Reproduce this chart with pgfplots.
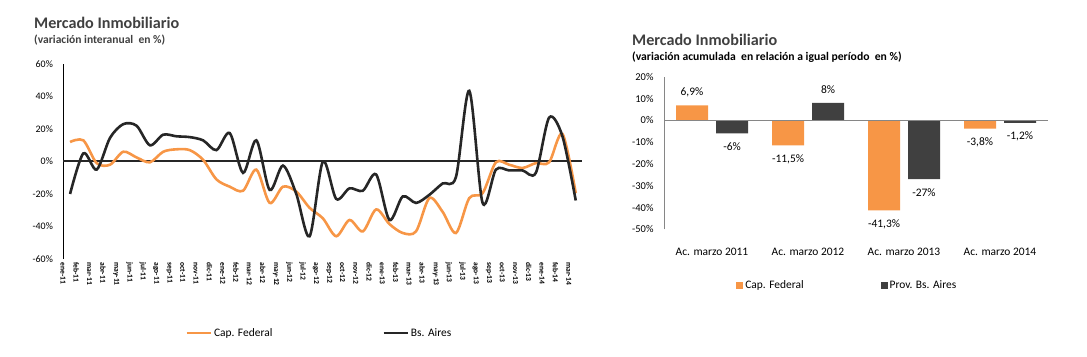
\documentclass[border=0pt]{standalone}
\usepackage{pgfplots}
\usepackage{pgfplotstable}
\pgfplotsset{compat=1.18}
\usepackage{fontspec}
\setmainfont{Carlito}
\definecolor{corange}{HTML}{F79646}
\definecolor{cdark}{HTML}{404040}
\definecolor{cline}{HTML}{262626}
\definecolor{ctitle}{HTML}{404040}
\definecolor{cgrid}{HTML}{868686}

\pgfplotstableread{
i cap bsas
0 12 -20
1 13 5
2 -1 -5
3 -2 14.5
4 6 23
5 2.5 22
6 -0.5 10
7 6 16.5
8 7.5 15.5
9 7 15
10 1 13
11 -11 7
12 -15.5 17.5
13 -18 -7
14 -5 13
15 -25.5 -17.5
16 -15.5 -2.5
17 -18.5 -20
18 -28.5 -46
19 -35 0
20 -46 -23
21 -36 -16.5
22 -43 -18
23 -29.5 -8
24 -38.5 -36
25 -44 -21.5
26 -43 -25.5
27 -22.5 -20.5
28 -31 -13.5
29 -44 -9.5
30 -22.5 43.5
31 -19.5 -25.5
32 -0.5 -5
33 -2 -5.5
34 -4 -5.5
35 -1 -7
36 -0.5 27
37 17 15.5
38 -19.5 -24
}\monthly

\begin{document}
\begin{tikzpicture}
\path[use as bounding box] (0bp,0bp) rectangle (1087bp,357bp);
% left titles
\node[anchor=base west, inner sep=0, text=ctitle, font=\fontsize{16.2}{19}\selectfont\bfseries] at (34bp,328.5bp) {Mercado Inmobiliario};
\node[anchor=base west, inner sep=0, text=ctitle, font=\fontsize{11.6}{13}\selectfont\bfseries] at (34bp,313bp) {(variación interanual\ \ en \%)};
% right titles
\node[anchor=base west, inner sep=0, text=ctitle, font=\fontsize{16.2}{19}\selectfont\bfseries] at (632bp,311bp) {Mercado Inmobiliario};
\node[anchor=base west, inner sep=0, text=black, font=\fontsize{11.7}{13}\selectfont\bfseries] at (632bp,296bp) {(variación acumulada\ \ en relación a igual período\ \ en \%)};

\begin{axis}[
  at={(63.4bp,98bp)}, anchor=south west,
  width=519bp, height=195bp, scale only axis,
  xmin=-0.5, xmax=38.5, ymin=-60, ymax=60,
  axis lines*=left,
  x axis line style={draw=none},
  y axis line style={draw=black, line width=0.8bp},
  tick style={draw=none},
  clip=false,
  ytick={-60,-40,-20,0,20,40,60},
  yticklabels={-60\%,-40\%,-20\%,0\%,20\%,40\%,60\%},
  yticklabel style={font=\fontsize{10}{12}\selectfont, xshift=-7bp},
  xtick={0,...,38},
  xticklabels={ene-11,feb-11,mar-11,abr-11,may-11,jun-11,jul-11,ago-11,sep-11,oct-11,nov-11,dic-11,
    ene-12,feb-12,mar-12,abr-12,may-12,jun-12,jul-12,ago-12,sep-12,oct-12,nov-12,dic-12,
    ene-13,feb-13,mar-13,abr-13,may-13,jun-13,jul-13,ago-13,sep-13,oct-13,nov-13,dic-13,
    ene-14,feb-14,mar-14},
  xticklabel style={font=\fontsize{7.6}{9}\selectfont\bfseries, rotate=-90, anchor=west, yshift=-7bp},
  legend style={draw=none, fill=none, legend columns=2, at={(0.229,-0.38)}, anchor=west,
    font=\fontsize{11.5}{13}\selectfont,
    /tikz/every even column/.append style={column sep=108bp}},
  legend image code/.code={\draw[#1] (0bp,0bp) -- (24bp,0bp);},
]
\addplot[cline, line width=2bp, forget plot] coordinates {(-0.5,0) (38.5,0)};
\addplot[corange, line width=2.6bp, smooth] table[x=i, y=cap] {\monthly};
\addlegendentry{Cap. Federal}
\addplot[cline, line width=2.6bp, smooth] table[x=i, y=bsas] {\monthly};
\addlegendentry{Bs. Aires}
\end{axis}

\begin{axis}[
  at={(664bp,127.7bp)}, anchor=south west,
  width=384bp, height=152.6bp, scale only axis,
  xmin=-0.5, xmax=3.5, ymin=-50, ymax=20,
  ybar=8bp, bar width=32bp,
  axis lines*=left,
  x axis line style={draw=none},
  y axis line style={draw=cgrid, line width=0.8bp},
  tick style={draw=none},
  clip=false,
  ytick={-50,-40,-30,-20,-10,0,10,20},
  yticklabels={-50\%,-40\%,-30\%,-20\%,-10\%,0\%,10\%,20\%},
  yticklabel style={font=\fontsize{10.5}{12}\selectfont, xshift=-7bp},
  xtick={0,1,2,3},
  xticklabels={Ac. marzo 2011,Ac. marzo 2012,Ac. marzo 2013,Ac. marzo 2014},
  xticklabel style={font=\fontsize{11.5}{13}\selectfont, yshift=-11bp},
  point meta=explicit symbolic,
  visualization depends on={y \as \rawy},
  nodes near coords,
  every node near coord/.append style={font=\fontsize{11.5}{13}\selectfont, text=black, anchor=center, inner sep=0pt, yshift={ifthenelse(\rawy<0,-13.5,13)*1bp}},
  legend style={draw=none, fill=none, legend columns=2, at={(0.18,-0.37)}, anchor=west,
    font=\fontsize{11.5}{13}\selectfont,
    /tikz/every even column/.append style={column sep=75bp}},
]
\addplot[draw=none, fill=corange, legend image code/.code={\fill[corange] (0bp,-3.5bp) rectangle (7bp,3.5bp);}]
  coordinates {(0,6.9) [6,9\%] (1,-11.5) [-11,5\%] (2,-41.3) [-41,3\%] (3,-3.8) [-3,8\%]};
\addlegendentry{Cap. Federal}
\addplot[draw=none, fill=cdark, legend image code/.code={\fill[cdark] (0bp,-3.5bp) rectangle (7bp,3.5bp);}]
  coordinates {(0,-6) [-6\%] (1,8) [8\%] (2,-27) [-27\%] (3,-1.2) [-1,2\%]};
\addlegendentry{Prov. Bs. Aires}
\draw[cgrid, line width=0.8bp] (axis cs:-0.5,0) -- (axis cs:3.5,0);
\end{axis}
\end{tikzpicture}
\end{document}
